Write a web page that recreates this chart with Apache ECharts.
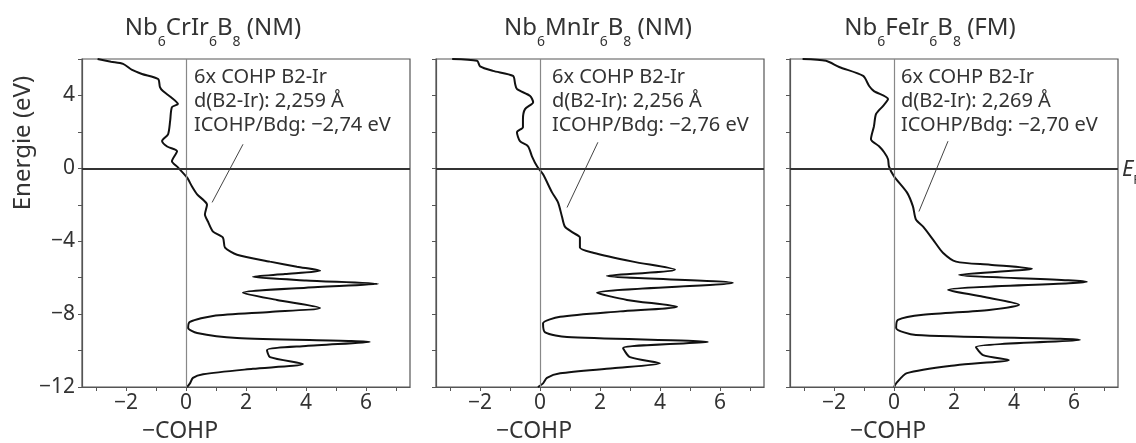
<!DOCTYPE html>
<html>
<head>
<meta charset="utf-8">
<script src="https://cdn.jsdelivr.net/npm/echarts@6/dist/echarts.min.js"></script>
<style>
    html, body {margin: 0; background: #fff;}
    #chart {width: 1136px; height: 443px;}
</style>
</head>
<body>
<div id="chart"></div>
<script>
// energy (eV) and -COHP, top to bottom
const crEnergy = [6.0, 5.85, 5.73, 5.4, 5.18, 4.9, 4.46, 4.24, 3.9, 3.53, 3.36, 2.6, 1.87, 1.5, 1.2, 0.94, 0.39, 0.05, -0.5, -1.0,
    -1.43, -2.0, -2.53, -2.92, -3.47, -3.8, -4.35, -4.74, -5.12, -5.4, -5.62, -5.8, -5.95, -6.15, -6.34, -6.55, -6.83, -7.22, -7.66, -7.88,
    -8.1, -8.43, -8.76, -9.04, -9.31, -9.53, -9.75, -9.97, -10.36, -10.74, -11.0, -11.3, -11.5, -11.8, -12.0];
const crCohp = [-2.95, -2.5, -2.1, -1.8, -1.47, -0.93, -0.87, -0.77, -0.5, -0.27, -0.47, -0.53, -0.6, -0.8, -0.63, -0.3, -0.47, -0.27, 0.03, 0.2,
    0.37, 0.7, 0.63, 0.73, 0.9, 1.23, 1.3, 1.7, 2.8, 3.7, 4.47, 3.3, 2.23, 4.0, 6.4, 4.0, 1.9, 3.03, 4.47, 2.8,
    0.9, 0.13, 0.07, 0.37, 1.7, 6.13, 4.0, 2.7, 2.8, 3.9, 2.23, 0.57, 0.23, 0.13, 0.03];

const mnEnergy = [6.0, 5.9, 5.6, 5.35, 5.07, 4.63, 4.35, 3.97, 3.63, 3.25, 2.7, 2.26, 1.98, 1.49, 1.21, 0.66, 0.11, -0.33, -1.32, -1.87,
    -2.64, -3.2, -3.53, -3.8, -4.35, -4.63, -5.12, -5.56, -5.9, -6.28, -6.83, -7.22, -7.6, -7.85, -8.15, -8.5, -9.0, -9.26, -9.53, -9.86,
    -10.36, -10.7, -10.97, -11.25, -11.5, -11.8, -12.0];
const mnCohp = [-2.93, -2.1, -2.0, -1.57, -0.9, -0.83, -0.77, -0.33, -0.23, -0.5, -0.57, -0.57, -0.77, -0.67, -0.4, -0.27, -0.1, 0.1, 0.4, 0.6,
    0.73, 0.83, 1.1, 1.33, 1.33, 1.77, 3.1, 4.5, 2.23, 6.43, 1.9, 2.9, 4.57, 2.67, 0.67, 0.1, 0.17, 0.9, 5.6, 2.77,
    3.0, 4.0, 2.43, 0.67, 0.23, 0.1, -0.07];

const feEnergy = [6.0, 5.9, 5.56, 5.07, 4.52, 4.24, 3.8, 3.42, 2.98, 2.31, 1.6, 1.21, 0.88, 0.5, 0.11, -0.44, -1.32, -2.09, -2.81, -3.2,
    -3.91, -4.63, -5.12, -5.29, -5.51, -5.84, -6.23, -6.67, -7.05, -7.49, -7.77, -8.04, -8.32, -8.76, -9.15, -9.42, -9.81, -10.25, -10.52, -10.8,
    -11.24, -11.8, -12.0];
const feCohp = [-3.05, -2.27, -1.83, -1.03, -0.83, -0.67, -0.2, -0.37, -0.6, -0.67, -0.77, -0.5, -0.33, -0.2, -0.17, 0, 0.43, 0.63, 0.73, 0.97,
    1.3, 1.63, 2.07, 3.2, 4.6, 2.17, 6.43, 1.8, 2.97, 4.17, 3.17, 0.97, 0.13, 0.07, 0.73, 6.2, 2.73, 2.97, 3.83, 2.07,
    0.43, 0.07, 0];

const metals = ['Cr', 'Mn', 'Fe'];
const magnetism = ['NM', 'NM', 'FM'];
const bondLengths = ['2,259', '2,256', '2,269'];
const icohpValues = ['\u22122,74', '\u22122,76', '\u22122,70'];
// pointer from the label down to the curve: [start, end]
const pointerEnergy = [[1.32, -1.87], [1.43, -2.15], [1.49, -2.37]];
const pointerCohp = [[1.9, 0.87], [1.93, 0.9], [1.8, 0.83]];

const energyTicks = [-12, -10, -8, -6, -4, -2, 0, 2, 4, 6];
const energyLabels = [-12, -8, -4, 0, 4];
const cohpTicks = [-3, -2, -1, 0, 1, 2, 3, 4, 5, 6, 7];
const cohpLabels = [-2, 0, 2, 4, 6];

const energies = [crEnergy, mnEnergy, feEnergy];
const cohps = [crCohp, mnCohp, feCohp];

const FONT = 'Noto Sans';
const TEXT = '#333';
const AXIS = '#555';
const gridLeft = [82, 436, 790];
const zeroPx = [186, 540, 894];
const titleX = [213, 598, 930];

const minus = v => v < 0 ? '\u2212' + Math.abs(v) : String(v);

const grids = [], xAxes = [], yAxes = [], series = [], graphics = [];

for (let i = 0; i < 3; i++) {
    grids.push({
        left: gridLeft[i], top: 59, width: 328, height: 328,
        show: true, borderColor: AXIS, borderWidth: 1.2, backgroundColor: '#fff'
    });
    xAxes.push({
        gridIndex: i, type: 'value', min: -3.47, max: 7.47,
        axisLine: {onZero: false, lineStyle: {color: AXIS, width: 1.2}},
        axisTick: {customValues: cohpTicks, length: 4, lineStyle: {color: AXIS}},
        axisLabel: {customValues: cohpLabels, formatter: minus, fontSize: 21, fontFamily: FONT, color: TEXT, margin: 6},
        splitLine: {show: false}
    });
    yAxes.push({
        gridIndex: i, type: 'value', min: -12, max: 6, interval: 2,
        axisLine: {onZero: false, lineStyle: {color: AXIS, width: 1.2}},
        axisTick: {customValues: energyTicks, length: 4, lineStyle: {color: AXIS}},
        axisLabel: {show: i === 0, customValues: energyLabels, formatter: minus, fontSize: 21, fontFamily: FONT, color: TEXT, margin: 7},
        splitLine: {show: false}
    });
    series.push({
        type: 'line', xAxisIndex: i, yAxisIndex: i,
        data: cohps[i].map((c, k) => [c, energies[i][k]]),
        showSymbol: false, smooth: 0.25,
        lineStyle: {color: '#111', width: 2},
        silent: true,
        markLine: {
            silent: true, symbol: 'none', label: {show: false},
            data: [
                {xAxis: 0, lineStyle: {color: '#888', width: 1.2, type: 'solid'}},
                {yAxis: 0, lineStyle: {color: '#333', width: 2, type: 'solid'}}
            ]
        },
        z: 3
    });
    series.push({
        type: 'line', xAxisIndex: i, yAxisIndex: i,
        data: pointerCohp[i].map((c, k) => [c, pointerEnergy[i][k]]),
        showSymbol: false, silent: true,
        lineStyle: {color: '#444', width: 1}
    });

    // title with subscripts
    graphics.push({
        type: 'text', x: titleX[i], y: 28, z: 10,
        style: {
            text: `{n|Nb}{s|6}{n|${metals[i]}Ir}{s|6}{n|B}{s|8}{n| (${magnetism[i]})}`,
            textAlign: 'center', textVerticalAlign: 'middle', align: 'center', verticalAlign: 'middle',
            fill: TEXT,
            rich: {
                n: {fontSize: 24, fontFamily: FONT, fill: TEXT, lineHeight: 42},
                s: {fontSize: 14, fontFamily: FONT, fill: TEXT, verticalAlign: 'bottom', lineHeight: 14}
            }
        }
    });
    // annotation block
    const lines = ['6x COHP B2-Ir', `d(B2-Ir): ${bondLengths[i]} \u00c5`, `ICOHP/Bdg: ${icohpValues[i]} eV`];
    const textLeft = [194, 552, 901][i];
    lines.forEach((t, k) => {
        graphics.push({
            type: 'text', x: textLeft, y: 77 + k * 24, z: 10,
            style: {text: t, fontSize: 20, fontFamily: FONT, fill: TEXT,
                textAlign: 'left', textVerticalAlign: 'middle', align: 'left', verticalAlign: 'middle'}
        });
    });
    // x axis name
    graphics.push({
        type: 'text', x: zeroPx[i] - 6, y: 431, z: 10,
        style: {text: '\u2212COHP', fontSize: 23, fontFamily: FONT, fill: TEXT,
            textAlign: 'center', textVerticalAlign: 'middle', align: 'center', verticalAlign: 'middle'}
    });
}

graphics.push({
    type: 'text', x: 23, y: 143, rotation: Math.PI / 2, z: 10,
    style: {text: 'Energie (eV)', fontSize: 24, fontFamily: FONT, fill: TEXT,
        textAlign: 'center', textVerticalAlign: 'middle', align: 'center', verticalAlign: 'middle'}
});
graphics.push({
    type: 'text', x: 1122, y: 170, z: 10,
    style: {
        text: '{e|E}{f|F}', textAlign: 'left', textVerticalAlign: 'middle', align: 'left', verticalAlign: 'middle',
        rich: {
            e: {fontSize: 22, fontStyle: 'italic', fontFamily: FONT, fill: TEXT, lineHeight: 34},
            f: {fontSize: 13, fontFamily: FONT, fill: TEXT, verticalAlign: 'bottom', lineHeight: 13}
        }
    }
});

const chart = echarts.init(document.getElementById('chart'), null, {renderer: 'canvas'});
chart.setOption({
    backgroundColor: '#fff',
    animation: false,
    grid: grids,
    xAxis: xAxes,
    yAxis: yAxes,
    series: series,
    graphic: graphics
});
</script>
</body>
</html>
